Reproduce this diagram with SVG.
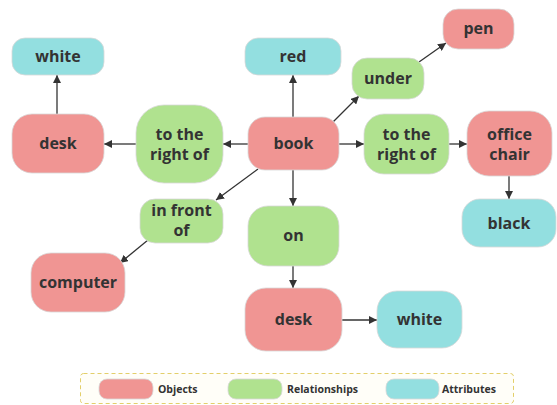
<svg xmlns="http://www.w3.org/2000/svg" width="557" height="405" viewBox="0 0 557 405">
<defs>
<style>
.obj{fill:#f09593;stroke:#d8d8d8;stroke-width:0.8}
.rel{fill:#b0e28f;stroke:#d8d8d8;stroke-width:0.8}
.att{fill:#93dfe0;stroke:#d8d8d8;stroke-width:0.8}
.t{font-family:"Open Sans","DejaVu Sans",sans-serif;font-weight:bold;font-size:16px;fill:#333;text-anchor:middle}
.lt{font-family:"Open Sans","DejaVu Sans",sans-serif;font-weight:bold;font-size:10.5px;fill:#333}
.c{stroke:#333;stroke-width:1.3;fill:none;marker-end:url(#ah)}
</style>
<marker id="ah" viewBox="0 0 10 10" refX="10" refY="5" markerWidth="8" markerHeight="8" markerUnits="userSpaceOnUse" orient="auto">
<path d="M0,0 L10,5 L0,10 z" fill="#333"/>
</marker>
</defs>
<rect width="557" height="405" fill="#fff"/>
<g id="connectors">
<line class="c" x1="57" y1="114" x2="57" y2="75"/>
<line class="c" x1="136" y1="144" x2="104" y2="144"/>
<line class="c" x1="248" y1="144" x2="223" y2="144"/>
<line class="c" x1="293" y1="117" x2="293" y2="75"/>
<line class="c" x1="331" y1="124" x2="359" y2="96"/>
<line class="c" x1="419" y1="62" x2="446" y2="43"/>
<line class="c" x1="339" y1="144" x2="364" y2="144"/>
<line class="c" x1="449" y1="144" x2="467" y2="144"/>
<line class="c" x1="509" y1="176" x2="509" y2="199"/>
<line class="c" x1="258" y1="169" x2="216" y2="200"/>
<line class="c" x1="148" y1="240" x2="120" y2="263"/>
<line class="c" x1="293" y1="170" x2="293" y2="206"/>
<line class="c" x1="293" y1="266" x2="293" y2="288"/>
<line class="c" x1="342" y1="320" x2="377" y2="320"/>
</g>
<g id="white1"><rect class="att" x="12" y="38" width="92" height="37" rx="13"/><text class="t" x="58" y="62">white</text></g>
<g id="desk1"><rect class="obj" x="12" y="114" width="92" height="59" rx="20"/><text class="t" x="58" y="149">desk</text></g>
<g id="rightof1"><rect class="rel" x="136" y="105" width="87" height="78" rx="28"/><text class="t" x="179.5" y="140">to the</text><text class="t" x="179.5" y="160">right of</text></g>
<g id="book"><rect class="obj" x="248" y="117" width="91" height="53" rx="17"/><text class="t" x="293.5" y="149">book</text></g>
<g id="red"><rect class="att" x="245" y="38" width="96" height="37" rx="13"/><text class="t" x="293" y="62">red</text></g>
<g id="under"><rect class="rel" x="352" y="58" width="72" height="41" rx="15"/><text class="t" x="388" y="84">under</text></g>
<g id="pen"><rect class="obj" x="443" y="9" width="71" height="40" rx="15"/><text class="t" x="478.5" y="34">pen</text></g>
<g id="rightof2"><rect class="rel" x="364" y="114" width="85" height="60" rx="20"/><text class="t" x="406.5" y="140">to the</text><text class="t" x="406.5" y="160">right of</text></g>
<g id="officechair"><rect class="obj" x="467" y="111" width="85" height="65" rx="22"/><text class="t" x="509.5" y="140">office</text><text class="t" x="509.5" y="160">chair</text></g>
<g id="black"><rect class="att" x="462" y="199" width="94" height="48" rx="18"/><text class="t" x="509" y="229">black</text></g>
<g id="infrontof"><rect class="rel" x="140" y="199" width="83" height="44" rx="15"/><text class="t" x="181.5" y="216">in front</text><text class="t" x="181.5" y="236">of</text></g>
<g id="computer"><rect class="obj" x="31" y="253" width="94" height="59" rx="20"/><text class="t" x="78" y="288">computer</text></g>
<g id="on"><rect class="rel" x="248" y="206" width="91" height="60" rx="20"/><text class="t" x="293.5" y="241">on</text></g>
<g id="desk2"><rect class="obj" x="245" y="288" width="97" height="63" rx="21"/><text class="t" x="293.5" y="325">desk</text></g>
<g id="white2"><rect class="att" x="377" y="291" width="85" height="57" rx="20"/><text class="t" x="419.5" y="325">white</text></g>
<g id="legend">
<rect x="80.5" y="373.5" width="433" height="30" rx="3" fill="#fffef8" stroke="#e3cf6a" stroke-width="1" stroke-dasharray="4,3"/>
<rect class="obj" x="99" y="379" width="54" height="20" rx="8"/>
<text class="lt" x="158" y="393">Objects</text>
<rect class="rel" x="228" y="379" width="54" height="20" rx="8"/>
<text class="lt" x="287" y="393">Relationships</text>
<rect class="att" x="386" y="379" width="53" height="20" rx="8"/>
<text class="lt" x="442" y="393">Attributes</text>
</g>
</svg>
